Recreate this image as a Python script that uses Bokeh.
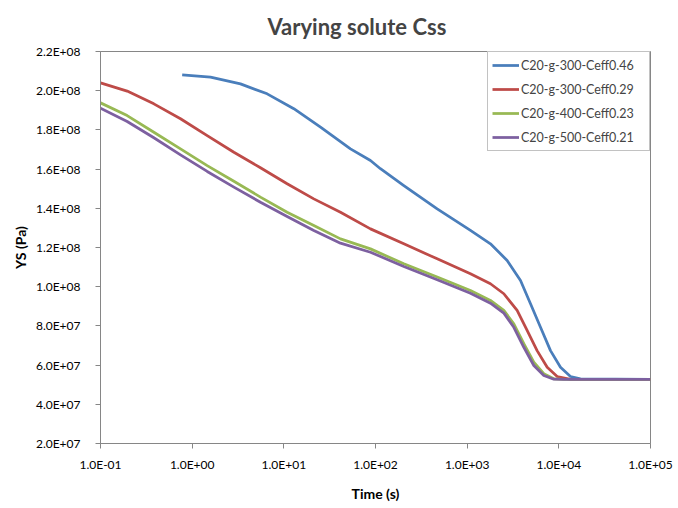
from bokeh.plotting import figure
from bokeh.models import Range1d, FixedTicker, Legend, LegendItem
from bokeh.embed import file_html
from bokeh.resources import INLINE

# ---- data ----
t_blue = [0.778, 1.585, 3.365, 6.577, 12.85, 25.12, 53.33, 88.1, 113.2, 203.7, 471, 1086, 1795, 2729,
          3819, 4909, 6310, 8110, 10423, 13397, 17219, 100000]
ys_blue = [2.081e8, 2.069e8, 2.035e8, 1.984e8, 1.908e8, 1.814e8, 1.703e8, 1.644e8, 1.602e8, 1.516e8,
           1.397e8, 1.287e8, 1.219e8, 1.134e8, 1.032e8, 0.913e8, 0.793e8, 0.674e8, 0.589e8, 0.542e8,
           0.530e8, 0.527e8]

t_red = [0.1, 0.1954, 0.382, 0.746, 1.459, 2.851, 5.559, 10.86, 21.23, 41.50, 88.1, 203.7, 471, 1086,
         1795, 2512, 3508, 4508, 5794, 7464, 9594, 13397, 100000]
ys_red = [2.040e8, 1.998e8, 1.933e8, 1.857e8, 1.771e8, 1.686e8, 1.607e8, 1.525e8, 1.448e8, 1.380e8,
          1.295e8, 1.219e8, 1.142e8, 1.066e8, 1.015e8, 0.964e8, 0.879e8, 0.777e8, 0.674e8, 0.589e8,
          0.542e8, 0.527e8, 0.527e8]

t_green = [0.1, 0.1954, 0.382, 0.746, 1.459, 2.851, 5.559, 10.86, 21.23, 41.50, 88.1, 203.7, 471, 1086,
           1795, 2512, 3228, 4150, 5333, 6855, 8810, 11324, 100000]
ys_green = [1.938e8, 1.873e8, 1.788e8, 1.703e8, 1.618e8, 1.538e8, 1.457e8, 1.380e8, 1.312e8, 1.244e8,
            1.193e8, 1.117e8, 1.049e8, 0.981e8, 0.930e8, 0.879e8, 0.811e8, 0.709e8, 0.615e8, 0.556e8,
            0.530e8, 0.527e8, 0.527e8]

t_purple = [0.1, 0.1954, 0.382, 0.746, 1.459, 2.851, 5.559, 10.86, 21.23, 41.50, 88.1, 203.7, 471, 1086,
            1795, 2512, 3228, 4150, 5333, 6855, 8810, 11324, 100000]
ys_purple = [1.911e8, 1.843e8, 1.760e8, 1.673e8, 1.588e8, 1.508e8, 1.431e8, 1.358e8, 1.287e8, 1.222e8,
             1.176e8, 1.103e8, 1.035e8, 0.967e8, 0.916e8, 0.865e8, 0.793e8, 0.691e8, 0.598e8, 0.547e8,
             0.528e8, 0.527e8, 0.527e8]

series_names = ["C20-g-300-Ceff0.46", "C20-g-300-Ceff0.29", "C20-g-400-Ceff0.23", "C20-g-500-Ceff0.21"]
series_colors = ["#4A7EBB", "#BE4B48", "#98B954", "#7D60A0"]

x_ticks = [0.1, 1, 10, 100, 1000, 10000, 100000]
x_tick_labels = ["1.0E-01", "1.0E+00", "1.0E+01", "1.0E+02", "1.0E+03", "1.0E+04", "1.0E+05"]
y_ticks = [2e7, 4e7, 6e7, 8e7, 1e8, 1.2e8, 1.4e8, 1.6e8, 1.8e8, 2.0e8, 2.2e8]
y_tick_labels = ["2.0E+07", "4.0E+07", "6.0E+07", "8.0E+07", "1.0E+08", "1.2E+08", "1.4E+08",
                 "1.6E+08", "1.8E+08", "2.0E+08", "2.2E+08"]

chart_title = "Varying solute Css"

FONT = "Lato"
AXIS_COLOR = "#868686"

p = figure(width=678, height=508, x_axis_type="log", output_backend="svg", toolbar_location=None,
           x_range=Range1d(0.1, 1e5), y_range=Range1d(2e7, 2.2e8),
           min_border_left=100, min_border_right=28, min_border_top=51, min_border_bottom=65)

p.title.text = chart_title
p.title.text_font = FONT
p.title.text_font_size = "22px"
p.title.text_font_style = "bold"
p.title.align = "left"
p.title.vertical_align = "top"
p.title.offset = 167
p.title.standoff = 20

p.xgrid.visible = False
p.ygrid.visible = False
p.outline_line_color = AXIS_COLOR
p.outline_line_width = 1
p.background_fill_color = "white"
p.border_fill_color = "white"

for ax in (p.xaxis[0], p.yaxis[0]):
    ax.axis_line_color = AXIS_COLOR
    ax.major_tick_line_color = AXIS_COLOR
    ax.minor_tick_line_color = None
    ax.major_tick_in = 0
    ax.major_tick_out = 5
    ax.major_label_text_font = FONT
    ax.major_label_text_font_size = "12px"
    ax.major_label_text_color = "black"
    ax.axis_label_text_font = FONT
    ax.axis_label_text_font_size = "14px"
    ax.axis_label_text_font_style = "bold"
    ax.axis_label_text_color = "black"

p.xaxis.ticker = FixedTicker(ticks=x_ticks)
p.xaxis.major_label_overrides = {t: l for t, l in zip(x_ticks, x_tick_labels)}
p.xaxis.axis_label = "Time (s)"
p.xaxis.major_label_standoff = 8
p.xaxis.axis_label_standoff = 10

p.yaxis.ticker = FixedTicker(ticks=y_ticks)
p.yaxis.major_label_overrides = {t: l for t, l in zip(y_ticks, y_tick_labels)}
p.yaxis.axis_label = "YS (Pa)"
p.yaxis.major_label_standoff = 15
p.yaxis.axis_label_standoff = 4

xs = [t_blue, t_red, t_green, t_purple]
ys = [ys_blue, ys_red, ys_green, ys_purple]
items = []
for name, color, x, y in zip(series_names, series_colors, xs, ys):
    r = p.line(x, y, line_color=color, line_width=2.75, line_join="round")
    items.append(LegendItem(label=name, renderers=[r]))

legend = Legend(items=items, location="top_right", margin=0, padding=4,
                label_text_font=FONT, label_text_font_size="12.5px",
                glyph_width=27, glyph_height=18, label_height=18, label_width=124, spacing=6,
                label_standoff=2, border_line_color=AXIS_COLOR, border_line_width=1,
                background_fill_alpha=1.0)
p.add_layout(legend)

open("out.html", "w").write(file_html(p, INLINE))
